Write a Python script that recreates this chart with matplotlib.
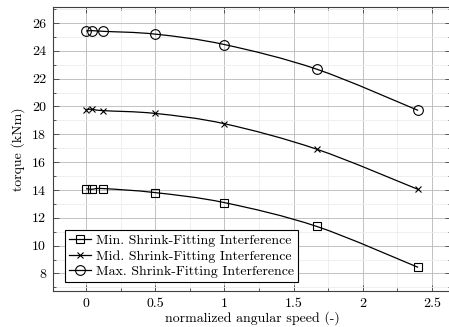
import matplotlib
matplotlib.use("Agg")
import matplotlib.pyplot as plt
from matplotlib.path import Path
from matplotlib.patches import PathPatch
from matplotlib.ticker import MultipleLocator, FormatStrFormatter

plt.rcParams['font.family'] = 'cmr10'
plt.rcParams['mathtext.fontset'] = 'cm'
plt.rcParams['axes.formatter.use_mathtext'] = True

# data
speed = [0.0, 0.04, 0.125, 0.5, 1.0, 1.667, 2.4]
torque_min = [14.10, 14.05, 14.10, 13.81, 13.09, 11.38, 8.44]
torque_mid = [19.78, 19.80, 19.70, 19.50, 18.76, 16.93, 14.04]
torque_max = [25.42, 25.45, 25.40, 25.20, 24.45, 22.68, 19.72]
labels = ["Min. Shrink-Fitting Interference",
          "Mid. Shrink-Fitting Interference",
          "Max. Shrink-Fitting Interference"]
markers = ["s", "x", "o"]
msizes = [6, 4.5, 7]


def smooth_path(xs, ys, k=1/6):
    # catmull-rom like bezier through the points (like pgfplots "smooth")
    verts = [(xs[0], ys[0])]
    codes = [Path.MOVETO]
    n = len(xs)
    for i in range(n - 1):
        x0, y0 = (xs[i-1], ys[i-1]) if i > 0 else (xs[i], ys[i])
        x1, y1 = xs[i], ys[i]
        x2, y2 = xs[i+1], ys[i+1]
        x3, y3 = (xs[i+2], ys[i+2]) if i + 2 < n else (xs[i+1], ys[i+1])
        c1 = (x1 + k*(x2 - x0), y1 + k*(y2 - y0))
        c2 = (x2 - k*(x3 - x1), y2 - k*(y3 - y1))
        verts += [c1, c2, (x2, y2)]
        codes += [Path.CURVE4] * 3
    return Path(verts, codes)


fig = plt.figure(figsize=(4.49, 3.27), dpi=100)
ax = fig.add_axes([53/449, 36/327, 398.3/449, 284/327])

for ys, lab, m, ms in zip([torque_min, torque_mid, torque_max], labels, markers, msizes):
    ax.add_patch(PathPatch(smooth_path(speed, ys), fill=False, edgecolor='black', lw=0.9, zorder=3))
    ax.plot(speed, ys, ls='none', marker=m, ms=ms, mfc='none', mec='black', mew=0.8, zorder=4)
    ax.plot([], [], color='black', lw=0.9, marker=m, ms=ms, mfc='none', mew=0.8, label=lab)

ax.set_xlim(-0.24, 2.64)
ax.set_ylim(6.74, 27.15)
ax.xaxis.set_major_locator(MultipleLocator(0.5))
ax.xaxis.set_minor_locator(MultipleLocator(0.25))
ax.yaxis.set_major_locator(MultipleLocator(2))
ax.yaxis.set_minor_locator(MultipleLocator(1))
ax.xaxis.set_major_formatter(FormatStrFormatter('%g'))
ax.yaxis.set_major_formatter(FormatStrFormatter('%g'))

ax.grid(which='major', color='#b8b8b8', lw=0.6)
ax.grid(which='minor', color='#ececec', lw=0.6)
ax.set_axisbelow(True)
ax.tick_params(which='both', direction='in', top=True, right=True, labelsize=10, width=0.6, color='#404040')
ax.tick_params(which='major', length=4, pad=5)
ax.tick_params(which='minor', length=2)
for s in ax.spines.values():
    s.set_linewidth(0.8)
    s.set_color('#404040')

ax.set_xlabel("normalized angular speed (-)", fontsize=10, labelpad=1)
ax.set_ylabel("torque (kNm)", fontsize=10, labelpad=5)

leg = ax.legend(loc='lower left', bbox_to_anchor=(0.03, 0.03), fontsize=10,
                frameon=True, fancybox=False, edgecolor='black', framealpha=1,
                handlelength=1.6, handletextpad=0.3, labelspacing=0.2,
                borderpad=0.3, borderaxespad=0.0)
leg.get_frame().set_linewidth(0.8)

fig.savefig("out.png", dpi=100)
